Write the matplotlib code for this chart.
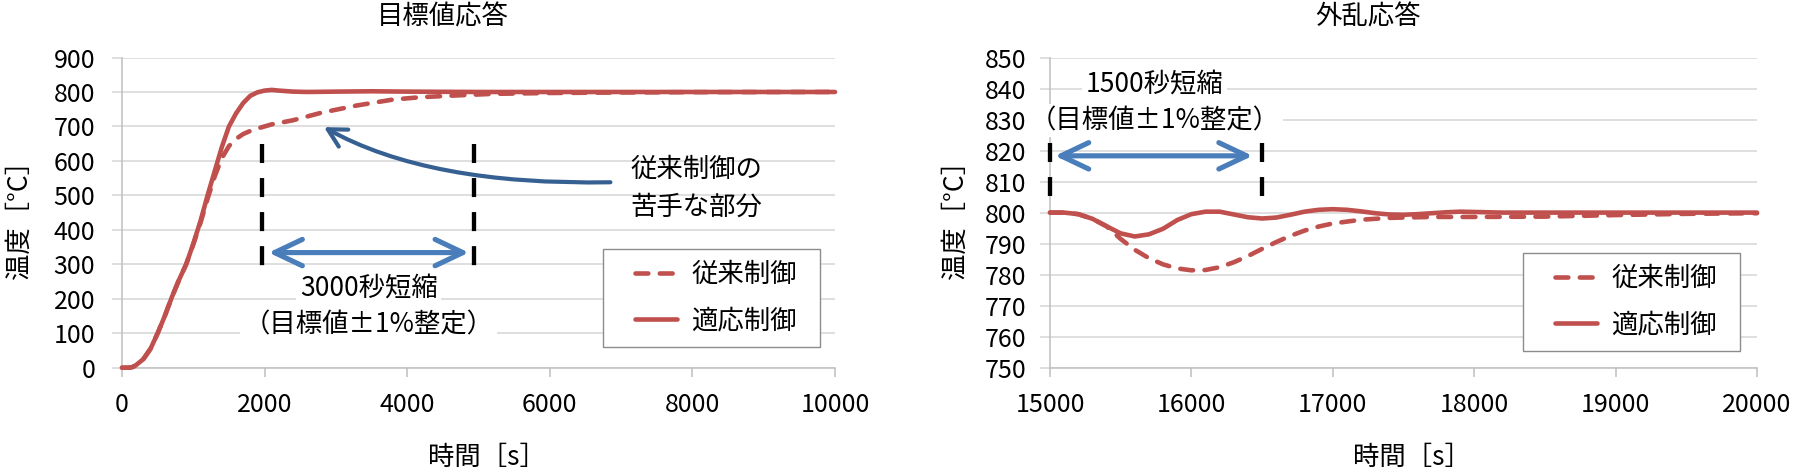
import numpy as np
import matplotlib
matplotlib.use("Agg")
import matplotlib.pyplot as plt
from matplotlib.patches import FancyArrowPatch, ArrowStyle
from matplotlib.path import Path
from matplotlib.legend_handler import HandlerLine2D

plt.rcParams['font.family'] = ['Noto Sans CJK JP', 'DejaVu Sans']

# ---------------- data ----------------
# 目標値応答 (setpoint response)
sp_t_adapt = [0, 100, 150, 200, 300, 400, 500, 600, 700, 800, 900, 1000, 1100, 1200,
              1300, 1400, 1500, 1600, 1700, 1800, 1900, 2000, 2100, 2200, 2400, 2600,
              3000, 3500, 4000, 5000, 10000]
sp_T_adapt = [0, 0, 2, 8, 25, 55, 100, 150, 205, 255, 300, 360, 425, 500,
              570, 640, 700, 738, 768, 789, 799, 804, 806, 804, 801, 800,
              801, 802, 801, 800, 800]
sp_t_conv = [0, 100, 150, 200, 300, 400, 500, 600, 700, 800, 900, 1000, 1100, 1200,
             1300, 1400, 1500, 1600, 1700, 1800, 1900, 2000, 2100, 2400, 2800, 3300,
             3800, 4200, 4700, 5200, 6000, 7000, 8000, 10000]
sp_T_conv = [0, 0, 2, 8, 25, 55, 100, 150, 205, 255, 300, 358, 420, 490,
             555, 608, 643, 664, 678, 687, 694, 700, 706, 718, 740, 761,
             778, 785, 790, 794.5, 797, 798.5, 799.5, 800]

# 外乱応答 (disturbance response)
dr_t_adapt = [15000, 15100, 15200, 15300, 15400, 15500, 15600, 15700, 15800, 15900,
              16000, 16100, 16200, 16300, 16400, 16500, 16600, 16700, 16800, 16900,
              17000, 17100, 17200, 17300, 17400, 17500, 17600, 17700, 17800, 17900,
              18000, 18200, 20000]
dr_T_adapt = [800, 800, 799.5, 798, 795.6, 793.3, 792.3, 793, 794.8, 797.6,
              799.5, 800.3, 800.3, 799.4, 798.5, 798.1, 798.4, 799.3, 800.3, 800.9,
              801.1, 800.9, 800.4, 799.8, 799.4, 799.3, 799.5, 799.8, 800.1, 800.3,
              800.2, 800, 800]
dr_t_conv = [15000, 15100, 15200, 15300, 15400, 15500, 15600, 15700, 15800, 15900,
             16000, 16100, 16200, 16300, 16400, 16500, 16600, 16700, 16800, 16900,
             17000, 17200, 17400, 17700, 18000, 18500, 19000, 19500, 20000]
dr_T_conv = [800, 800, 799.5, 798, 795.6, 791.5, 788, 785.3, 783.3, 782,
             781.4, 781.5, 782.4, 784, 786, 788.3, 790.5, 792.5, 794.2, 795.5,
             796.5, 797.7, 798.3, 798.6, 798.6, 798.7, 799.2, 799.6, 799.8]

series_labels = ['従来制御', '適応制御']
titles = ['目標値応答', '外乱応答']
xlabel = '時間［s］'
ylabel = '温度［°C］'
sp_xticks = [0, 2000, 4000, 6000, 8000, 10000]
sp_yticks = [0, 100, 200, 300, 400, 500, 600, 700, 800, 900]
dr_xticks = [15000, 16000, 17000, 18000, 19000, 20000]
dr_yticks = [750, 760, 770, 780, 790, 800, 810, 820, 830, 840, 850]

# annotation values (data coordinates)
sp_settle = [1966, 4935]          # settling times (±1%)
sp_marker_range = [649, 294]
sp_span_arrow = [2056, 4865, 334]
sp_span_text = ['3000秒短縮', '（目標値±1%整定）']
sp_span_text_pos = [(3460, 230), (3460, 124)]
sp_note_text = ['従来制御の', '苦手な部分']
sp_note_pos = [(7135, 574), (7135, 467)]
sp_note_arrow = [(6850, 538), (4300, 528), (2832, 698)]

dr_settle = [15000, 16500]
dr_marker_range = [822.4, 805.2]
dr_span_arrow = [15035, 16433, 818.3]
dr_span_text = ['1500秒短縮', '（目標値±1%整定）']
dr_span_text_pos = [(15740, 841.4), (15740, 829.7)]

# ---------------- style ----------------
RED = '#C0504D'
BLUE = '#4A7EBB'
DARKBLUE = '#376092'
GRID = '#D9D9D9'
AXC = '#BFBFBF'
FS = 19
TFS = 18
W, H = 1800, 471


class LeadHandler(HandlerLine2D):
    def __init__(self, lead, **kw):
        super().__init__(**kw)
        self.lead = lead

    def get_xdata(self, legend, xdescent, ydescent, width, height, fontsize):
        xd = np.array([-xdescent + self.lead, -xdescent + width])
        return xd, xd


def legend_frame(x0, y0, width, height, mutation_size, extra=11):
    x1 = x0 + width + extra
    y1 = y0 + height
    return Path([(x0, y0), (x1, y0), (x1, y1), (x0, y1), (x0, y0)], closed=True)


fig = plt.figure(figsize=(W / 100, H / 100), dpi=100)
ax1 = fig.add_axes([122 / W, 1 - 367.7 / H, 713 / W, 310.2 / H])
ax2 = fig.add_axes([1050 / W, 1 - 367.7 / H, 707 / W, 310.2 / H])


def style_axes(ax, xticks, yticks, ypad):
    ax.set_xlim(xticks[0], xticks[-1])
    ax.set_ylim(yticks[0], yticks[-1])
    ax.set_xticks(xticks)
    ax.set_yticks(yticks)
    ax.set_axisbelow(True)
    ax.yaxis.grid(True, color=GRID, lw=1.2)
    for s in ['top', 'right']:
        ax.spines[s].set_visible(False)
    for s in ['left', 'bottom']:
        ax.spines[s].set_color(AXC)
        ax.spines[s].set_linewidth(1.1)
    ax.tick_params(axis='y', length=7.2, width=1.2, color=GRID, pad=ypad,
                   labelsize=TFS)
    ax.tick_params(axis='x', length=6.5, width=1.1, color=AXC, pad=11,
                   labelsize=TFS)


style_axes(ax1, sp_xticks, sp_yticks, 12)
style_axes(ax2, dr_xticks, dr_yticks, 10)

dash_kw = dict(color=RED, lw=3.3, linestyle=(0, (2.8, 2.5)),
               dash_capstyle='round', solid_capstyle='round', clip_on=False)
solid_kw = dict(color=RED, lw=3.3, solid_capstyle='round', clip_on=False)

l1, = ax1.plot(sp_t_conv, sp_T_conv, label=series_labels[0], zorder=3, **dash_kw)
l2, = ax1.plot(sp_t_adapt, sp_T_adapt, label=series_labels[1], zorder=3, **solid_kw)
r1, = ax2.plot(dr_t_conv, dr_T_conv, label=series_labels[0], zorder=3, **dash_kw)
r2, = ax2.plot(dr_t_adapt, dr_T_adapt, label=series_labels[1], zorder=3, **solid_kw)

for ax, title in zip([ax1, ax2], titles):
    ax.set_title(title, x=0.45, y=1.132, va='center', fontsize=FS, pad=0)
    ax.set_xlabel(xlabel, fontsize=FS, va='center')
    ax.xaxis.set_label_coords(0.512, -0.29)
    ax.set_ylabel(ylabel, fontsize=FS, va='center')
ax1.yaxis.set_label_coords((19 - 122) / 713, 0.5)
ax2.yaxis.set_label_coords((955 - 1050) / 707, 0.5)


def annotate_span(ax, settle, mrange, arrow, texts, tpos):
    for x in settle:
        ax.plot([x, x], mrange, color='black', lw=3.1,
                linestyle=(0, (19 / 4.3, 15 / 4.3)), dash_capstyle='butt',
                clip_on=False, zorder=4)
    ar = FancyArrowPatch((arrow[0], arrow[2]), (arrow[1], arrow[2]),
                         arrowstyle=ArrowStyle('<->', head_length=20, head_width=9.5),
                         lw=3.7, color=BLUE, shrinkA=0, shrinkB=0,
                         capstyle='round', joinstyle='round', zorder=4,
                         mutation_scale=1)
    ax.add_patch(ar)
    for s, (x, y) in zip(texts, tpos):
        ax.text(x, y, s, ha='center', va='center', fontsize=FS, zorder=6,
                bbox=dict(facecolor='white', edgecolor='none', pad=2.5))


annotate_span(ax1, sp_settle, sp_marker_range, sp_span_arrow, sp_span_text,
              sp_span_text_pos)
annotate_span(ax2, dr_settle, dr_marker_range, dr_span_arrow, dr_span_text,
              dr_span_text_pos)

for s, (x, y) in zip(sp_note_text, sp_note_pos):
    ax1.text(x, y, s, ha='left', va='center', fontsize=FS, zorder=6)

curve = Path(sp_note_arrow, [Path.MOVETO, Path.CURVE3, Path.CURVE3])
note_arrow = FancyArrowPatch(path=curve,
                             arrowstyle=ArrowStyle('->', head_length=13, head_width=7),
                             lw=3.0, color=DARKBLUE, capstyle='round',
                             joinstyle='round', mutation_scale=1,
                             transform=ax1.transData, zorder=4)
ax1.add_patch(note_arrow)

lead_pt = 20.5 * 72 / 100.0
for ax, (lx, ly), handles in [(ax1, (603, 249), [l1, l2]), (ax2, (1523, 253), [r1, r2])]:
    leg = ax.legend(handles=handles, loc='upper left',
                    bbox_to_anchor=(lx / W, 1 - ly / H),
                    bbox_transform=fig.transFigure, borderaxespad=0,
                    fontsize=FS, frameon=True, fancybox=False,
                    edgecolor='#8C8C8C', framealpha=1, borderpad=0.45,
                    handlelength=2.35, handletextpad=0.55, labelspacing=0.75,
                    handler_map={h: LeadHandler(lead_pt) for h in handles})
    leg.get_frame().set_linewidth(1.0)
    leg.get_frame().set_boxstyle(legend_frame)

fig.savefig('out.png', dpi=100, facecolor='white')
